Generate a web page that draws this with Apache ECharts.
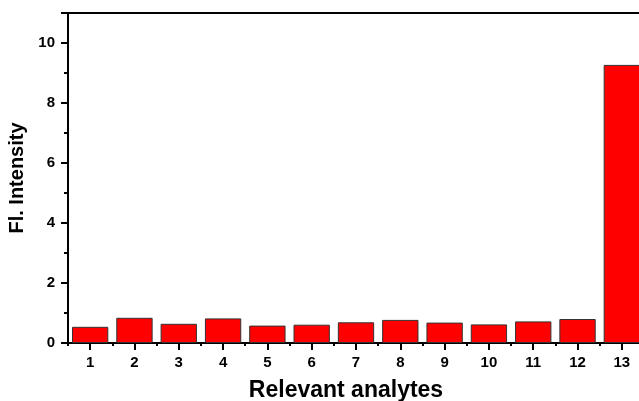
<!DOCTYPE html>
<html>
<head>
    <meta charset="utf-8">
    <title>Relevant analytes</title>
    <script src="https://cdn.jsdelivr.net/npm/echarts@6/dist/echarts.min.js"></script>
    <style>
      html, body { margin: 0; padding: 0; background: #fff; }
    </style>
</head>
<body>
    <div id="main" style="width:639px;height:401px;"></div>
    <script type="text/javascript">
      // data
      var analytes = ['1', '2', '3', '4', '5', '6', '7', '8', '9', '10', '11', '12', '13'];
      var intensity = [0.54, 0.84, 0.64, 0.82, 0.58, 0.61, 0.69, 0.77, 0.68, 0.62, 0.72, 0.80, 9.27];
      var yTicks = [0, 2, 4, 6, 8, 10];

      var font = 'Liberation Sans, Arial, sans-serif';
      var chart = echarts.init(document.getElementById('main'));
      var option = {
        animation: false,
        grid: {
          left: 68, top: 13, width: 576, height: 330,
          outerBoundsMode: 'none',
          show: true, borderColor: '#000', borderWidth: 2, backgroundColor: 'transparent'
        },
        xAxis: [
          {
            type: 'category',
            data: analytes,
            name: 'Relevant analytes',
            nameLocation: 'middle',
            nameGap: 36,
            nameTextStyle: { fontFamily: font, fontWeight: 'bold', fontSize: 23, color: '#000', padding: [0, 20, 0, 0] },
            axisLine: { show: true, lineStyle: { color: '#000', width: 2 } },
            axisTick: { show: true, alignWithLabel: true, length: 7, lineStyle: { color: '#000', width: 2 } },
            axisLabel: { fontFamily: font, fontWeight: 'bold', fontSize: 15, color: '#000', margin: 12 }
          },
          {
            // short ticks on the category boundaries
            type: 'category',
            data: analytes,
            position: 'bottom',
            offset: 0,
            axisLine: { show: false },
            axisTick: { show: true, length: 3, lineStyle: { color: '#000', width: 2 } },
            axisLabel: { show: false }
          }
        ],
        yAxis: {
          type: 'value',
          min: 0, max: 11, interval: 2,
          name: 'Fl. Intensity',
          nameLocation: 'middle',
          nameGap: 34,
          nameTextStyle: { fontFamily: font, fontWeight: 'bold', fontSize: 20, color: '#000' },
          axisLine: { show: true, lineStyle: { color: '#000', width: 2 } },
          axisTick: { show: true, length: 7, lineStyle: { color: '#000', width: 2 } },
          minorTick: { show: true, splitNumber: 2, length: 4, lineStyle: { color: '#000', width: 2 } },
          splitLine: { show: false },
          axisLabel: {
            fontFamily: font, fontWeight: 'bold', fontSize: 15, color: '#000', margin: 13,
            formatter: function (v) { return yTicks.indexOf(v) >= 0 ? String(v) : ''; }
          }
        },
        series: [
          {
            type: 'bar',
            data: intensity,
            barCategoryGap: '18%',
            itemStyle: { color: '#ff0000', borderColor: '#333', borderWidth: 1 }
          }
        ]
      };
      chart.setOption(option);
    </script>
</body>
</html>
